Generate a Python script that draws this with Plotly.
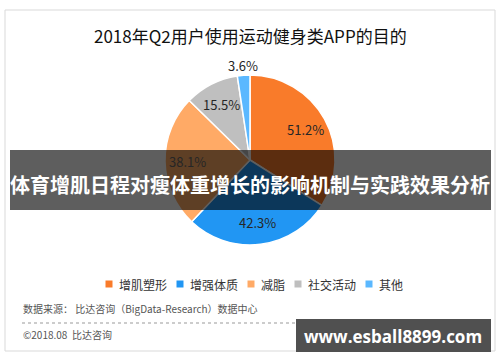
import math
import plotly.graph_objects as go

title = "2018年Q2用户使用运动健身类APP的目的"
categories = ["增肌塑形", "增强体质", "减脂", "社交活动", "其他"]
values = [51.2, 42.3, 38.1, 15.5, 3.6]
colors = ["#F97B2A", "#2196F3", "#FFAA66", "#BFBFBF", "#5BB8FF"]
label_outside = [False, False, False, False, True]
banner_text = "体育增肌日程对瘦体重增长的影响机制与实践效果分析"
source_text = "数据来源： 比达咨询（BigData-Research）数据中心"
copyright_text = "©2018.08  比达咨询"
watermark_text = "www.esball8899.com"

W, H = 500, 362
def px(x): return x / W
def py(y): return 1 - y / H

FONT = "Noto Sans CJK SC, Microsoft YaHei, sans-serif"

# pie geometry (pixels)
CX, CY, R = 250, 160, 85

fig = go.Figure(go.Pie(
    labels=categories,
    values=values,
    textinfo="none",
    sort=False,
    direction="clockwise",
    rotation=0,
    marker=dict(colors=colors, line=dict(color="white", width=1.5)),
    domain=dict(x=[px(CX - R), px(CX + R)], y=[py(CY + R), py(CY - R)]),
    hoverinfo="label+value",
    showlegend=False,
))

annotations = []
# slice percentage labels, placed along each slice's mid-angle
total = sum(values)
cum = 0.0
for v, out in zip(values, label_outside):
    mid = (cum + v / 2) / total * 2 * math.pi
    cum += v
    r = R * (1.12 if out else 0.74)
    lx = CX + r * math.sin(mid)
    ly = CY - r * math.cos(mid)
    annotations.append(dict(text=f"{v}%", x=px(lx), y=py(ly), xref="paper", yref="paper",
                            showarrow=False, xanchor="center", yanchor="middle",
                            font=dict(family=FONT, size=13, color="#262626")))

shapes = [
    dict(type="rect", xref="paper", yref="paper", x0=px(5), x1=px(495), y0=py(351), y1=py(10),
         line=dict(color="#D9D9D9", width=1), fillcolor="rgba(0,0,0,0)", layer="below"),
    dict(type="line", xref="paper", yref="paper", x0=px(22), x1=px(480), y0=py(323), y1=py(323),
         line=dict(color="#999999", width=1, dash="dot")),
    dict(type="rect", xref="paper", yref="paper", x0=px(10), x1=px(491), y0=py(210), y1=py(150),
         line=dict(width=0), fillcolor="rgba(0,0,0,0.63)", layer="above"),
    dict(type="rect", xref="paper", yref="paper", x0=px(296), x1=px(491), y0=py(352), y1=py(319),
         line=dict(width=0), fillcolor="#505050", layer="above"),
]

# custom compact legend
LEG_Y = 284
LEG_FS = 12
sq, gap, spacing = 7, 4, 12
widths = [sq + gap + len(c) * LEG_FS for c in categories]
total_w = sum(widths) + spacing * (len(categories) - 1)
x = 253 - total_w / 2
for c, col, w in zip(categories, colors, widths):
    shapes.append(dict(type="rect", xref="paper", yref="paper", x0=px(x), x1=px(x + sq),
                       y0=py(LEG_Y + sq / 2), y1=py(LEG_Y - sq / 2), line=dict(width=0), fillcolor=col))
    annotations.append(dict(text=c, x=px(x + sq + gap), y=py(LEG_Y), xref="paper", yref="paper",
                            showarrow=False, xanchor="left", yanchor="middle",
                            font=dict(family=FONT, size=LEG_FS, color="#333333")))
    x += w + spacing

annotations += [
    dict(text=title, x=0.5, y=py(35), xref="paper", yref="paper", showarrow=False,
         xanchor="center", yanchor="middle", font=dict(family=FONT, size=17, color="#111111")),
    dict(text="<b>" + banner_text + "</b>", x=px(250), y=py(184), xref="paper", yref="paper", showarrow=False,
         xanchor="center", yanchor="middle", font=dict(family=FONT, size=20, color="white")),
    dict(text=source_text, x=px(21), y=py(308), xref="paper", yref="paper", showarrow=False,
         xanchor="left", yanchor="middle", font=dict(family=FONT, size=10, color="#555555")),
    dict(text=copyright_text, x=px(21), y=py(334), xref="paper", yref="paper", showarrow=False,
         xanchor="left", yanchor="middle", font=dict(family=FONT, size=10, color="#555555")),
    dict(text="<b>" + watermark_text + "</b>", x=px(393), y=py(336), xref="paper", yref="paper", showarrow=False,
         xanchor="center", yanchor="middle", font=dict(family="Open Sans, DejaVu Sans, sans-serif", size=17, color="white")),
]

fig.update_layout(
    width=W, height=H,
    margin=dict(l=0, r=0, t=0, b=0),
    paper_bgcolor="white",
    plot_bgcolor="white",
    showlegend=False,
    shapes=shapes,
    annotations=annotations,
)

fig.write_html("out.html",
               config={"displayModeBar": False},
               post_script="document.body.style.margin='0';document.body.style.overflow='hidden';")
